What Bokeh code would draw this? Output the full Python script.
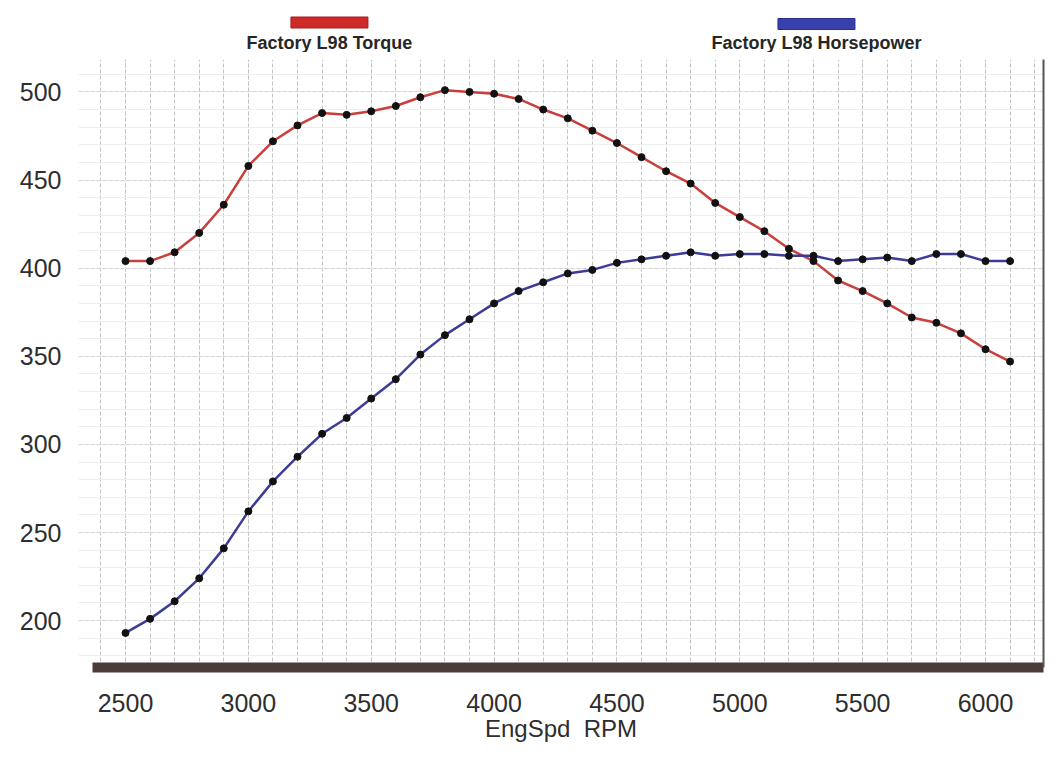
from bokeh.plotting import figure
from bokeh.layouts import column
from bokeh.models import (Range1d, SingleIntervalTicker, FixedTicker, LinearAxis)
from bokeh.embed import file_html
from bokeh.resources import INLINE

# ---- data read from the dyno sheet ----
rpm = [2500, 2600, 2700, 2800, 2900, 3000, 3100, 3200, 3300, 3400, 3500, 3600,
       3700, 3800, 3900, 4000, 4100, 4200, 4300, 4400, 4500, 4600, 4700, 4800,
       4900, 5000, 5100, 5200, 5300, 5400, 5500, 5600, 5700, 5800, 5900, 6000, 6100]
torque = [404, 404, 409, 420, 436, 458, 472, 481, 488, 487, 489, 492,
          497, 501, 500, 499, 496, 490, 485, 478, 471, 463, 455, 448,
          437, 429, 421, 411, 404, 393, 387, 380, 372, 369, 363, 354, 347]
horsepower = [193, 201, 211, 224, 241, 262, 279, 293, 306, 315, 326, 337,
              351, 362, 371, 380, 387, 392, 397, 399, 403, 405, 407, 409,
              407, 408, 408, 407, 407, 404, 405, 406, 404, 408, 408, 404, 404]
series_names = ["Factory L98 Torque", "Factory L98 Horsepower"]
x_label = "EngSpd\u00a0\u00a0RPM"

TORQUE_COLOR = "#c8403c"
HP_COLOR = "#3c3c98"
SWATCH_COLORS = ["#cf2a2a", "#3a3fae"]
SWATCH_BORDERS = ["#a81c1c", "#2a2f8e"]
TEXT_COLOR = "#2e2e2e"
FONT = "Liberation Sans"

X_RANGE = Range1d(2308.7, 6236)
W = 1046

# ---------- legend strip (swatch above its name, as on the dyno sheet) ----------
head = figure(width=W, height=52, output_backend="svg", toolbar_location=None,
              x_range=X_RANGE, y_range=Range1d(52, 0),
              x_axis_type=None, y_axis_type=None,
              min_border_left=78, min_border_right=3, min_border_top=0,
              min_border_bottom=0, background_fill_color="white",
              border_fill_color="white")
head.outline_line_color = None
head.xgrid.visible = False
head.ygrid.visible = False
legend_x = [3330, 5312]          # legend anchor positions (rpm scale)
swatch_y = [22, 23.5]             # legend rows (pixels from top)
head.rect(x=legend_x, y=swatch_y, width=77, height=11,
          width_units="screen", height_units="screen",
          fill_color=SWATCH_COLORS, line_color=SWATCH_BORDERS, line_width=1)
head.text(x=legend_x, y=[32.5, 32.5], text=series_names, text_align="center",
          text_baseline="top", text_font={"value": FONT},
          text_font_style="bold", text_font_size="18px", text_color="#262626")

# ---------- main chart ----------
p = figure(width=W, height=692, output_backend="svg", toolbar_location=None,
           x_range=X_RANGE, y_range=Range1d(173.4, 518.4),
           min_border_left=78, min_border_right=3, min_border_top=7,
           min_border_bottom=77, background_fill_color="white",
           border_fill_color="white")
p.outline_line_color = None

# x axis (thick bar at bottom)
xa = p.xaxis[0]
xa.ticker = SingleIntervalTicker(interval=500, num_minor_ticks=5)
xa.bounds = (2365, 6236)
xa.axis_line_color = "#4b3c38"
xa.axis_line_width = 10
xa.major_tick_line_color = None
xa.minor_tick_line_color = None
xa.major_label_standoff = 20
xa.major_label_text_font = FONT
xa.major_label_text_font_size = "25px"
xa.major_label_text_color = TEXT_COLOR
xa.axis_label = x_label
xa.axis_label_standoff = 0
xa.axis_label_text_font = FONT
xa.axis_label_text_font_size = "24px"
xa.axis_label_text_font_style = "normal"
xa.axis_label_text_color = TEXT_COLOR

# y axis (labels only)
ya = p.yaxis[0]
ya.ticker = SingleIntervalTicker(interval=50, num_minor_ticks=5)
ya.axis_line_color = None
ya.major_tick_line_color = None
ya.minor_tick_line_color = None
ya.major_label_standoff = 11
ya.major_label_text_font = FONT
ya.major_label_text_font_size = "25px"
ya.major_label_text_color = TEXT_COLOR

# right frame line
ra = LinearAxis(ticker=FixedTicker(ticks=[]), axis_line_color="#555555",
                axis_line_width=2, major_tick_line_color=None,
                minor_tick_line_color=None)
p.add_layout(ra, "right")

# grids
p.xgrid.grid_line_color = "#c4c4c4"
p.xgrid.grid_line_dash = "4 2"
p.xgrid.minor_grid_line_color = "#c4c4c4"
p.xgrid.minor_grid_line_dash = "4 2"
p.ygrid.grid_line_color = "#d4d4d4"
p.ygrid.grid_line_dash = "4 2"
p.ygrid.minor_grid_line_color = "#eeeeee"

# series
p.line(rpm, torque, line_color=TORQUE_COLOR, line_width=2.5)
p.scatter(rpm, torque, size=7, fill_color="#111111", line_color="#111111")
p.line(rpm, horsepower, line_color=HP_COLOR, line_width=2.5)
p.scatter(rpm, horsepower, size=7, fill_color="#111111", line_color="#111111")

layout = column(head, p, spacing=0)
open("out.html", "w").write(file_html(layout, INLINE))
